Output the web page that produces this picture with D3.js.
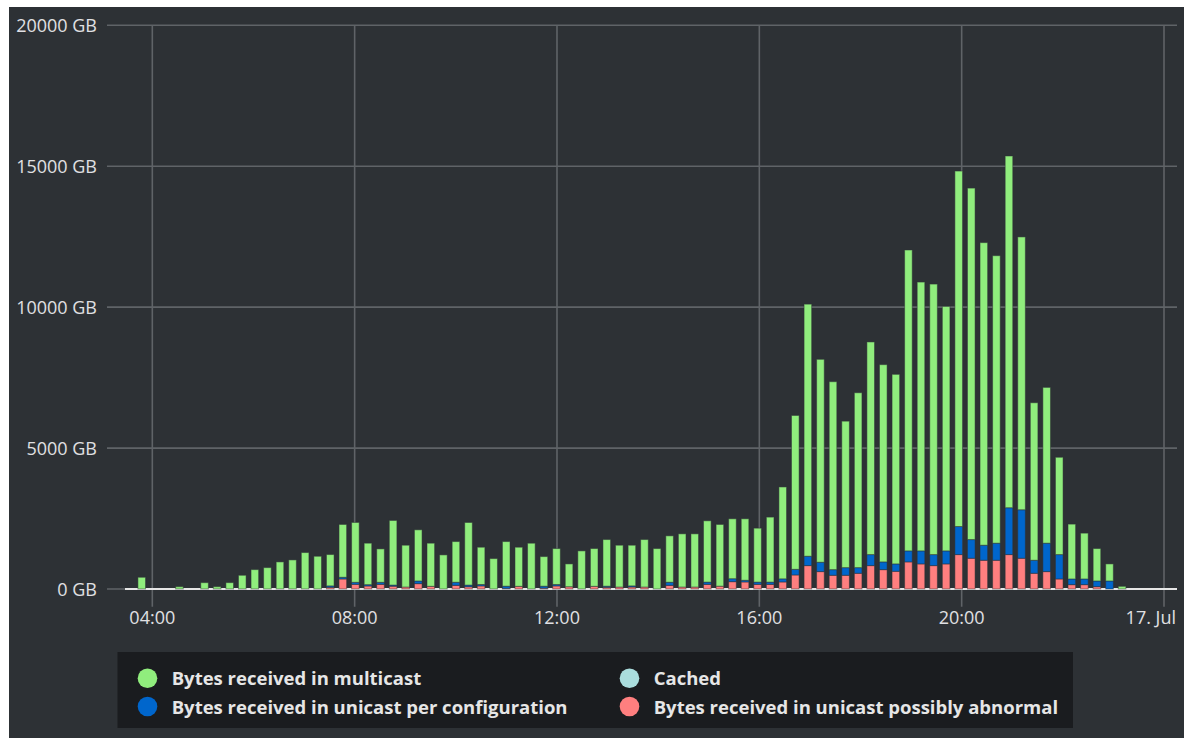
<!DOCTYPE html>
<html><head><meta charset="utf-8">
<script src="https://cdn.jsdelivr.net/npm/d3@7"></script>
<style>
html,body{margin:0;padding:0;background:#fff;}
svg{display:block;}
text{font-family:"Open Sans","Noto Sans",sans-serif;}
</style></head><body>
<svg id="chart" width="1184" height="738"></svg>
<script>
// ---- data ----
const startTime = "2024-07-16T03:47:26";
const stepSeconds = 894.5;
const multicast = [416,0,0,83,0,225,83,225,487,688,
  759,961,1032,1293,1162,1112,1874,2123,1472,1185,
  2292,1484,1815,1531,1210,1443,2220,1323,1079,1583,
  1388,1625,1050,1275,810,1352,1340,1655,1484,1444,
  1685,1435,1646,1887,1887,2175,2190,2126,2181,1914,
  2306,3260,5459,8944,7199,6668,5197,6205,7544,6999,
  6726,10676,9538,9598,8673,12612,12470,10735,10200,12480,
  9680,5588,5527,3453,1946,1626,1150,605,95];
const cached = [0,0,0,0,0,0,0,0,0,0,
  0,0,0,0,0,0,0,0,0,0,
  0,0,0,0,0,0,0,0,0,0,
  0,0,0,0,0,0,0,0,0,0,
  0,0,0,0,0,0,0,0,0,0,
  0,0,0,0,0,0,0,0,0,0,
  0,0,0,0,0,0,0,0,0,0,
  0,0,0,0,0,0,0,0,0];
const unicastConfig = [0,0,0,0,0,0,0,0,0,0,
  0,0,0,0,0,50,60,72,47,72,
  40,0,95,0,0,110,60,50,0,80,
  0,0,70,50,0,0,0,40,0,40,
  0,0,110,0,0,80,0,105,60,80,
  80,110,200,333,333,200,271,200,391,274,
  262,391,462,391,462,996,663,534,606,1662,
  1720,462,1009,865,202,202,202,285,0];
const unicastAbnormal = [0,0,0,0,0,0,0,0,0,0,
  0,0,0,0,0,60,356,166,107,166,
  100,70,190,95,0,130,80,110,0,20,
  95,0,30,110,80,0,95,60,70,70,
  70,0,130,70,70,165,100,260,250,165,
  165,250,498,830,617,487,487,558,830,687,
  628,961,890,830,890,1221,1091,1020,1020,1221,
  1091,558,617,356,154,154,83,0,0];
const seriesNames = ["Bytes received in multicast","Cached","Bytes received in unicast per configuration","Bytes received in unicast possibly abnormal"];
const seriesColors = ["#90ed7d","#aadddd","#0066cc","#ff7f7f"];
const yTicks = [0,5000,10000,15000,20000];
const xTicks = ["2024-07-16T04:00:00","2024-07-16T08:00:00","2024-07-16T12:00:00","2024-07-16T16:00:00","2024-07-16T20:00:00","2024-07-17T00:00:00"];
const xTickLabels = ["04:00","08:00","12:00","16:00","20:00","17. Jul"];

// ---- layout ----
const svg = d3.select("#chart");
const plot = {left:125, right:1177, top:25.3, bottom:589};
svg.append("rect").attr("x",9).attr("y",7).attr("width",1175).attr("height",731).attr("fill","#2d3135");

const x = d3.scaleTime()
  .domain([new Date("2024-07-16T03:27:36"), new Date("2024-07-17T00:15:25")])
  .range([plot.left, plot.right]);
const y = d3.scaleLinear().domain([0,20000]).range([plot.bottom, plot.top]);

const gridColor = "#5f6367";
const textColor = "#e0e0e3";

// horizontal grid
svg.append("g").selectAll("line").data(yTicks).join("line")
  .attr("x1",107).attr("x2",plot.right)
  .attr("y1",d=>y(d)).attr("y2",d=>y(d))
  .attr("stroke",gridColor).attr("stroke-width",1.6);
// vertical grid
const xt = xTicks.map(s=>new Date(s));
svg.append("g").selectAll("line").data(xt).join("line")
  .attr("x1",d=>x(d)).attr("x2",d=>x(d))
  .attr("y1",plot.top).attr("y2",606.7)
  .attr("stroke",gridColor).attr("stroke-width",1.6);

// y labels
svg.append("g").selectAll("text").data(yTicks).join("text")
  .attr("x",97).attr("y",d=>y(d)+6.5)
  .attr("text-anchor","end").attr("font-size","18px").attr("fill",textColor)
  .text(d=>d+" GB");
// x labels
svg.append("g").selectAll("text").data(xt).join("text")
  .attr("x",(d,i)=> i===xt.length-1 ? 1176 : x(d))
  .attr("y",624)
  .attr("text-anchor",(d,i)=> i===xt.length-1 ? "end" : "middle")
  .attr("font-size","18px").attr("fill",textColor)
  .text((d,i)=>xTickLabels[i]);

// axis line
svg.append("line").attr("x1",plot.left).attr("x2",plot.right)
  .attr("y1",589).attr("y2",589).attr("stroke","#e6e6e6").attr("stroke-width",2);

// bars (stack: abnormal bottom, config, cached, multicast top)
const t0 = new Date(startTime).getTime();
const rows = multicast.map((m,i)=>({
  t: new Date(t0 + i*stepSeconds*1000),
  vals: [unicastAbnormal[i], unicastConfig[i], cached[i], m],
  cols: [seriesColors[3], seriesColors[2], seriesColors[1], seriesColors[0]]
}));
const barW = 7.6;
const segs = [];
rows.forEach(r=>{
  let base = 0;
  r.vals.forEach((v,k)=>{
    if (v>0) segs.push({t:r.t, y0:base, y1:base+v, c:r.cols[k]});
    base += v;
  });
});
svg.append("g").selectAll("rect").data(segs).join("rect")
  .attr("x",d=>x(d.t)-barW/2).attr("width",barW)
  .attr("y",d=>y(d.y1)).attr("height",d=>y(d.y0)-y(d.y1))
  .attr("fill",d=>d.c)
  .attr("stroke","#2d3135").attr("stroke-opacity",0.5).attr("stroke-width",1);

// legend
svg.append("rect").attr("x",117.5).attr("y",652).attr("width",955.5).attr("height",76).attr("fill","#1a1c1f");
const legendItems = [
  {name:seriesNames[0], color:seriesColors[0], col:0, row:0},
  {name:seriesNames[1], color:seriesColors[1], col:1, row:0},
  {name:seriesNames[2], color:seriesColors[2], col:0, row:1},
  {name:seriesNames[3], color:seriesColors[3], col:1, row:1}
];
const colX = [147.5, 629.5], rowY = [678.3, 706.5];
const lg = svg.append("g").selectAll("g").data(legendItems).join("g");
lg.append("circle").attr("cx",d=>colX[d.col]).attr("cy",d=>rowY[d.row]).attr("r",9.8).attr("fill",d=>d.color);
lg.append("text").attr("x",d=>colX[d.col]+24.2).attr("y",d=>rowY[d.row]+7)
  .attr("font-size","18.5px").attr("font-weight","700").attr("fill","#e6e6e6")
  .text(d=>d.name);
</script>
</body></html>
